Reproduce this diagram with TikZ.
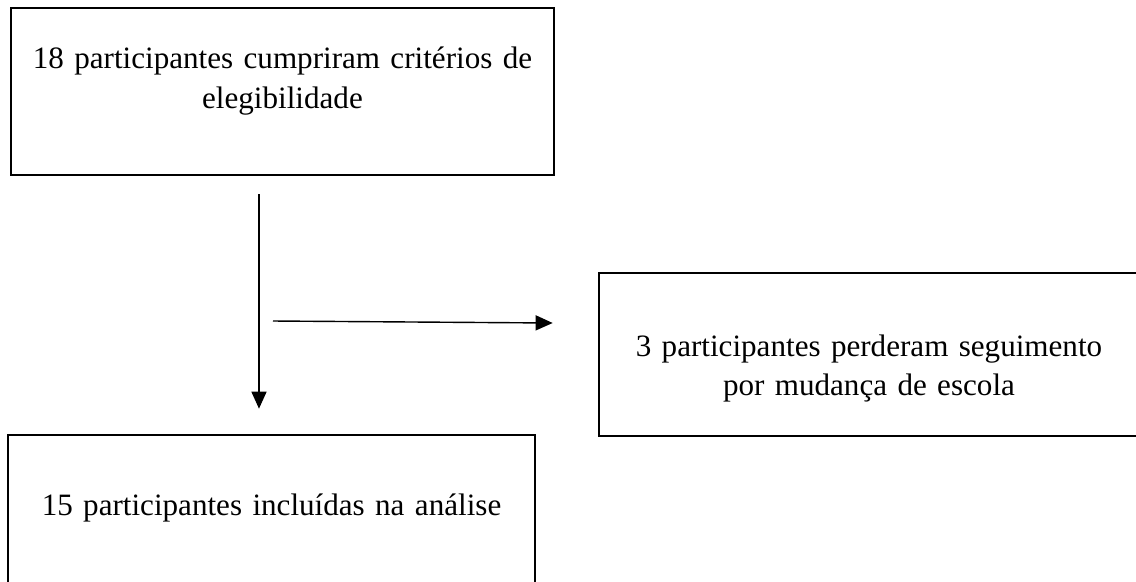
\documentclass[tikz,border=0pt]{standalone}
\usepackage{fontspec}
\setmainfont{Liberation Serif}
\usetikzlibrary{arrows.meta}
\tikzstyle{stage} = [rectangle, draw=black, line width=1.5pt, inner sep=0pt, text width=10.86cm, align=center, font=\fontsize{17.7}{23}\selectfont]
\tikzstyle{arrow} = [line width=0.8pt, -{Triangle[length=0.34cm, width=0.3cm]}]

\begin{document}
\begin{tikzpicture}[node distance = 8.54cm]
\useasboundingbox (-5.65,1.83) rectangle (17.07,-9.79);
\node (elig) [stage, text height=1.2cm, text depth=2.14cm] {18 participantes cumpriram critérios de\\ elegibilidade};

\node (incl) [stage, below of = elig, xshift=-0.22cm, text width=10.54cm, text height=1.6cm, text depth=1.74cm] {15 participantes incluídas na análise};

\node (perd) [stage, below of = elig, xshift=11.73cm, yshift=3.28cm, text width=10.8cm, text height=1.66cm, text depth=1.6cm, font=\fontsize{17.7}{22.2}\selectfont] {3 participantes perderam seguimento\\ por mudança de escola};

\coordinate (v1) at ([xshift=-0.47cm, yshift=-0.36cm]elig.south);
\coordinate (v2) at ([yshift=0.5cm]v1 |- incl.north);
\coordinate (h2) at ([xshift=-0.9cm, yshift=0.63cm]perd.west);
\coordinate (h1) at ([xshift=0.28cm, yshift=0.04cm]v1 |- h2);

\draw [arrow] (v1) -- (v2);
\draw [arrow] (h1) -- (h2);
\end{tikzpicture}
\end{document}
